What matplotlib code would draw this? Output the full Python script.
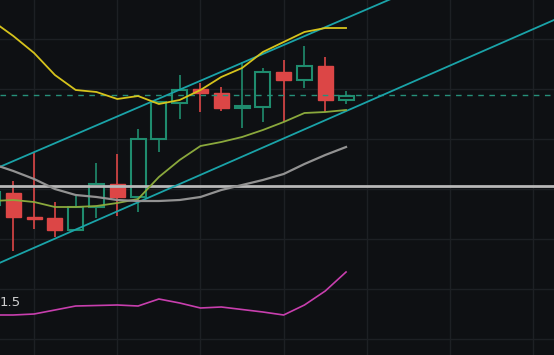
import numpy as np
import matplotlib
matplotlib.use("Agg")
import matplotlib.pyplot as plt

# candles, index -1 is the one cut by the left edge
idx = np.arange(-1, 17)
opens  = [18.4, 19.6, 17.2, 17.1, 15.9, 18.2, 20.5, 19.2, 25.0, 28.6, 30.0, 29.6, 28.1, 28.2, 31.7, 30.9, 32.3, 28.9]
highs  = [19.8, 20.8, 23.6, 18.7, 19.3, 22.6, 23.5, 26.0, 28.7, 31.4, 30.6, 30.2, 32.7, 32.1, 32.9, 34.3, 33.2, 29.8]
lows   = [18.3, 13.8, 16.0, 15.2, 15.9, 17.1, 17.3, 17.7, 23.7, 27.0, 27.7, 27.8, 26.1, 26.7, 26.7, 30.1, 27.7, 28.5]
closes = [19.7, 17.2, 17.0, 15.9, 18.2, 20.5, 19.2, 25.0, 28.7, 29.9, 29.6, 28.1, 28.3, 31.7, 30.9, 32.3, 28.9, 29.3]

# indicator lines
upper_ma = [36.8, 35.3, 33.6, 31.4, 29.9, 29.7, 29.0, 29.3, 28.5, 28.9, 29.9, 31.2, 32.1, 33.7, 34.7, 35.7, 36.1, 36.1]
fast_ma  = [18.8, 18.9, 18.7, 18.2, 18.2, 18.3, 18.6, 19.0, 21.2, 22.9, 24.3, 24.7, 25.2, 25.9, 26.7, 27.6, 27.7, 27.9]
slow_ma  = [22.5, 21.8, 21.0, 20.0, 19.4, 19.2, 18.9, 18.8, 18.8, 18.9, 19.2, 19.9, 20.4, 20.9, 21.5, 22.5, 23.4, 24.2]
osc      = [7.4, 7.4, 7.5, 7.9, 8.3, 8.35, 8.4, 8.3, 9.0, 8.6, 8.1, 8.2, 7.95, 7.7, 7.4, 8.4, 9.8, 11.7]

# channel (two anchor points each)
chan_x = [-1, 26]
chan_up = [21.9, 46.0]
chan_lo = [12.3, 36.9]

last_price = 29.4
level = 20.35
osc_label = "1.5"

bg = '#0e1013'
red = '#dc4646'
green = '#1f8c6e'

fig = plt.figure(figsize=(5.54, 3.55), dpi=100, facecolor=bg)
ax = fig.add_axes([0, 0, 1, 1], facecolor=bg)

# wicks then bodies
for i, o, h, l, c in zip(idx, opens, highs, lows, closes):
    col = green if c >= o else red
    ax.vlines(i, l, h, color=col, lw=1.2, zorder=2)
    if c >= o:
        ax.bar(i, c - o, bottom=o, width=0.72, facecolor=bg, edgecolor=col, lw=1.5, zorder=3)
    else:
        ax.bar(i, o - c, bottom=c, width=0.72, facecolor=col, edgecolor=col, lw=1, zorder=3)

ax.axhline(level, color='#b8b8b8', lw=2, zorder=4)
ax.axhline(last_price, color='#26907a', lw=1, ls=(0, (4, 4)), zorder=4)

ax.plot(chan_x, chan_up, color='#1aa3a8', lw=1.3, zorder=5)
ax.plot(chan_x, chan_lo, color='#1aa3a8', lw=1.3, zorder=5)
ax.plot(idx, upper_ma, color='#d6c31c', lw=1.3, zorder=5)
ax.plot(idx, fast_ma, color='#8aa83c', lw=1.3, zorder=5)
ax.plot(idx, slow_ma, color='#929292', lw=1.6, zorder=5)
ax.plot(idx, osc, color='#c83fae', lw=1.2, zorder=5)

ax.text(-0.68, 8.7, osc_label, color='#d0d0d0', fontsize=9.5, va='center', ha='left')

ax.set_xlim(-0.64, 26.0)
ax.set_ylim(3.4, 38.9)
ax.set_xticks(np.arange(1, 27, 4))
ax.set_yticks(np.arange(5, 36, 5))
ax.grid(True, color='#1d2024', lw=1)
ax.set_axisbelow(True)
ax.tick_params(length=0, labelbottom=False, labelleft=False)
for s in ax.spines.values():
    s.set_visible(False)

fig.savefig('out.png', dpi=100, facecolor=bg)
